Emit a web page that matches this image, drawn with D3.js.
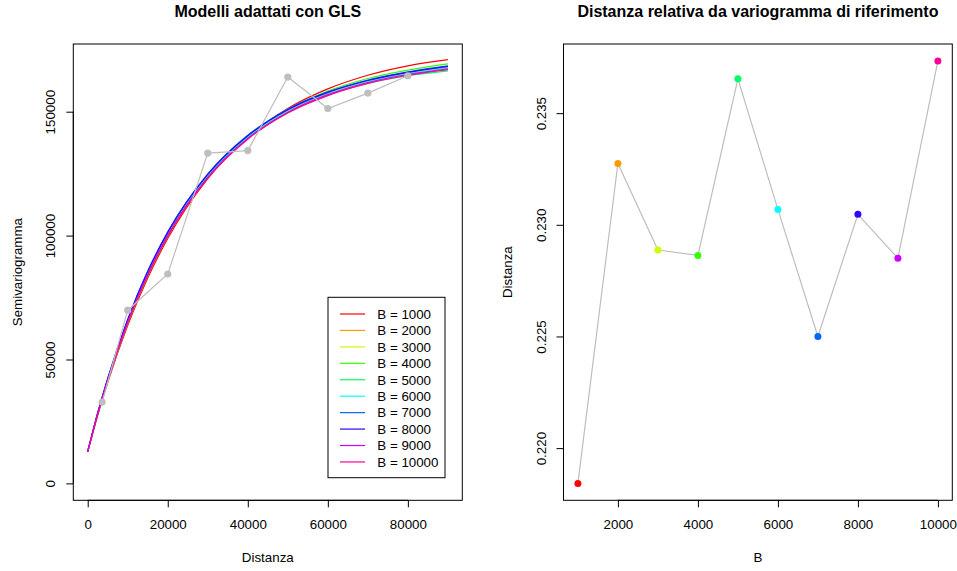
<!DOCTYPE html>
<html>
<head>
<meta charset="utf-8">
<script src="https://cdn.jsdelivr.net/npm/d3@7"></script>
<style>
  body { margin: 0; background: #fff; }
  svg { display: block; font-family: "Liberation Sans", Arial, Helvetica, sans-serif; }
</style>
</head>
<body>
<script>
// ---- data: fitted GLS variogram models (one per B) ----
const distances = [0, 2500, 5000, 10000, 15000, 20000, 30000, 40000, 50000, 60000, 70000, 80000, 90000];
const bValues = [1000, 2000, 3000, 4000, 5000, 6000, 7000, 8000, 9000, 10000];
const model1000  = [12800, 27500, 40700, 63800, 82900, 98800, 123000, 139700, 151300, 159200, 164700, 168500, 171000];
const model2000  = [12800, 28000, 41500, 65000, 84200, 100000, 123600, 139500, 150300, 157600, 162500, 165800, 168000];
const model3000  = [12800, 28100, 41700, 65300, 84500, 100300, 123800, 139500, 150100, 157200, 162100, 165300, 167500];
const model4000  = [12800, 27800, 41200, 64600, 83800, 99700, 123500, 139700, 150800, 158300, 163400, 166800, 169300];
const model5000  = [12800, 28200, 41900, 65600, 84800, 100500, 123900, 139400, 149800, 156700, 161400, 164500, 166500];
const model6000  = [12800, 28300, 42100, 65900, 85200, 101000, 124400, 140000, 150500, 157500, 162200, 165400, 167800];
const model7000  = [12800, 28500, 42400, 66300, 85700, 101500, 124900, 140500, 151000, 158000, 162800, 166100, 168500];
const model8000  = [12800, 28400, 42300, 66100, 85500, 101300, 124700, 140300, 150800, 157800, 162600, 165900, 168300];
const model9000  = [12800, 28000, 41600, 65100, 84300, 100100, 123500, 139200, 149800, 156900, 161800, 165000, 167300];
const model10000 = [12800, 27900, 41500, 64900, 84000, 99800, 123200, 138900, 149500, 156500, 161400, 164700, 167000];
const models = [model1000, model2000, model3000, model4000, model5000, model6000, model7000, model8000, model9000, model10000];

// ---- data: empirical variogram ----
const lagDist = [3600, 10000, 20000, 30000, 40000, 50000, 60000, 70000, 80000];
const lagGamma = [32800, 69900, 84500, 133300, 134300, 164000, 151300, 157500, 164500];

// ---- data: relative distance from reference variogram ----
const relDist = [0.21842, 0.23275, 0.22887, 0.22863, 0.23654, 0.23069, 0.22500, 0.23047, 0.22850, 0.23734];

// ---- axis ticks ----
const leftXTicks = [0, 20000, 40000, 60000, 80000];
const leftYTicks = [0, 50000, 100000, 150000];
const rightXTicks = [2000, 4000, 6000, 8000, 10000];
const rightYTicks = [0.220, 0.225, 0.230, 0.235];

// R rainbow(10)
const colors = ["#FF0000", "#FF9900", "#CCFF00", "#33FF00", "#00FF66", "#00FFFF", "#0066FF", "#3300FF", "#CC00FF", "#FF0099"];
const grey = "#BEBEBE";

const W = 957, H = 571;
const svg = d3.select("body").append("svg").attr("width", W).attr("height", H);

// R-style 4% axis padding
function pad(lo, hi) { const r = hi - lo; return [lo - 0.04 * r, hi + 0.04 * r]; }

function frame(g, x0, x1, y0, y1) {
  g.append("rect").attr("x", x0).attr("y", y0).attr("width", x1 - x0).attr("height", y1 - y0)
    .attr("fill", "none").attr("stroke", "#000").attr("stroke-width", 1);
}

function axes(x, y, xt, yt, xfmt, yfmt) {
  const [x0, x1] = x.range();
  const [y1, y0] = y.range();
  const gx = svg.append("g").attr("transform", `translate(0,${y1})`)
    .call(d3.axisBottom(x).tickValues(xt).tickFormat(xfmt).tickSizeOuter(0).tickSize(7).tickPadding(12));
  gx.select(".domain").attr("d", `M${x(xt[0])},0H${x(xt[xt.length - 1])}`);
  gx.selectAll("text").attr("font-size", 13.33).attr("fill", "#000").attr("font-family", null);
  const gy = svg.append("g").attr("transform", `translate(${x0},0)`)
    .call(d3.axisLeft(y).tickValues(yt).tickFormat(yfmt).tickSizeOuter(0).tickSize(7));
  gy.select(".domain").attr("d", `M0,${y(yt[0])}V${y(yt[yt.length - 1])}`);
  gy.selectAll(".tick text")
    .attr("font-size", 13.33).attr("fill", "#000").attr("font-family", null)
    .attr("x", null).attr("dy", null)
    .attr("text-anchor", "middle")
    .attr("transform", "translate(-18,0) rotate(-90)");
  frame(svg, x0, x1, y0, y1);
}

// ---------------- left panel ----------------
const xL = d3.scaleLinear().domain(pad(0, 90000)).range([73.3, 462.3]);
const yL = d3.scaleLinear().domain(pad(0, 170500)).range([500.3, 44]);

const curve = d3.line().x((d, i) => xL(distances[i])).y(d => yL(d)).curve(d3.curveMonotoneX);
const empLine = d3.line().x((d, i) => xL(lagDist[i])).y(d => yL(d));

// model curves first, empirical variogram on top
svg.append("g").selectAll("path").data(models).join("path")
  .attr("d", d => curve(d)).attr("fill", "none")
  .attr("stroke", (d, i) => colors[i]).attr("stroke-width", 1.2);

svg.append("path").attr("d", empLine(lagGamma)).attr("fill", "none").attr("stroke", grey).attr("stroke-width", 1.2);
svg.append("g").selectAll("circle").data(lagGamma).join("circle")
  .attr("cx", (d, i) => xL(lagDist[i])).attr("cy", d => yL(d)).attr("r", 3.6).attr("fill", grey);

axes(xL, yL, leftXTicks, leftYTicks, d3.format("d"), d3.format("d"));

svg.append("text").attr("x", (73.3 + 462.3) / 2).attr("y", 16.7).attr("text-anchor", "middle")
  .attr("font-size", 16).attr("font-weight", "bold").text("Modelli adattati con GLS");
svg.append("text").attr("x", (73.3 + 462.3) / 2).attr("y", 562).attr("text-anchor", "middle")
  .attr("font-size", 13.33).text("Distanza");
svg.append("text").attr("transform", `translate(22,${(44 + 500.3) / 2}) rotate(-90)`).attr("text-anchor", "middle")
  .attr("font-size", 13.33).text("Semivariogramma");

// legend
const lg = svg.append("g");
lg.append("rect").attr("x", 328).attr("y", 297.3).attr("width", 117).attr("height", 180.4)
  .attr("fill", "#fff").attr("stroke", "#000").attr("stroke-width", 1);
const rows = lg.selectAll("g.row").data(bValues).join("g").attr("class", "row")
  .attr("transform", (d, i) => `translate(0,${314 + i * 16.44})`);
rows.append("line").attr("x1", 340).attr("x2", 365).attr("stroke", (d, i) => colors[i]).attr("stroke-width", 1.2);
rows.append("text").attr("x", 377.3).attr("dy", "0.36em").attr("font-size", 13.33).text(d => `B = ${d}`);

// ---------------- right panel ----------------
const xR = d3.scaleLinear().domain(pad(1000, 10000)).range([563.5, 952.3]);
const yR = d3.scaleLinear().domain(pad(d3.min(relDist), d3.max(relDist))).range([500.3, 44]);

const relLine = d3.line().x((d, i) => xR(bValues[i])).y(d => yR(d));
svg.append("path").attr("d", relLine(relDist)).attr("fill", "none").attr("stroke", grey).attr("stroke-width", 1.2);
svg.append("g").selectAll("circle").data(relDist).join("circle")
  .attr("cx", (d, i) => xR(bValues[i])).attr("cy", d => yR(d)).attr("r", 3.5)
  .attr("fill", (d, i) => colors[i]);

axes(xR, yR, rightXTicks, rightYTicks, d3.format("d"), d3.format(".3f"));

svg.append("text").attr("x", (563.5 + 952.3) / 2).attr("y", 16.7).attr("text-anchor", "middle")
  .attr("font-size", 16).attr("font-weight", "bold").text("Distanza relativa da variogramma di riferimento");
svg.append("text").attr("x", (563.5 + 952.3) / 2).attr("y", 562).attr("text-anchor", "middle")
  .attr("font-size", 13.33).text("B");
svg.append("text").attr("transform", `translate(512,${(44 + 500.3) / 2}) rotate(-90)`).attr("text-anchor", "middle")
  .attr("font-size", 13.33).text("Distanza");
</script>
</body>
</html>
